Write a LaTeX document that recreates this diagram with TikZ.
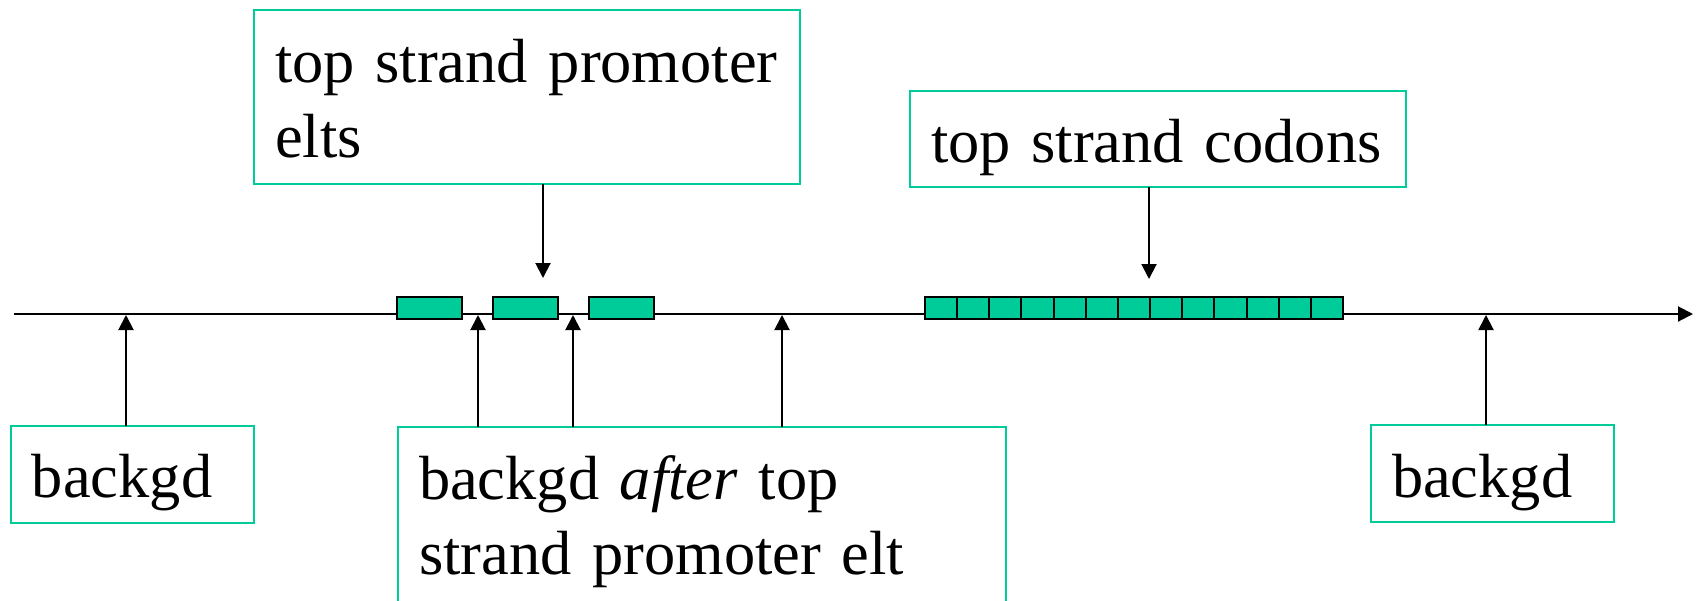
\documentclass[tikz,border=0pt]{standalone}
\usepackage{fontspec}
\setmainfont{Liberation Serif}
\usetikzlibrary{arrows.meta}
\definecolor{eltgreen}{RGB}{0,204,153}

\tikzset{
    labelbox/.style={draw=eltgreen, line width=1pt, anchor=north west, align=left, outer sep=0pt, inner xsep=10.5pt, inner ysep=0pt, font=\fontsize{31.2}{37.5}\selectfont},
    eltbox/.style={draw, fill=eltgreen, line width=1pt, anchor=north west, outer sep=0pt, inner sep=0pt, minimum height=11pt},
    pointer/.style={line width=1pt, -{Triangle[width=7.5pt,length=7.5pt]}},
}

\begin{document}
\begin{tikzpicture}[x=0.5pt, y=-0.5pt]

    \useasboundingbox (0,0) rectangle (1702,600);

    % Draw sequence axis
    \coordinate (axstart) at (14,314);
    \coordinate (axend) at (1693,314);
    \draw[pointer] (axstart)--(axend);

    % Draw promoter elements
    \node[eltbox, minimum width=32.5pt] (elt1) at (397,297) {};
    \node[eltbox, minimum width=32.5pt] (elt2) at (493,297) {};
    \node[eltbox, minimum width=32.5pt] (elt3) at (589,297) {};

    % Draw codons
    \foreach \i in {0,...,12} {
        \node[eltbox, minimum width=16.075pt] (codon\i) at ({925+32.15*\i},297) {};
    }

    % Draw label boxes
    \node[labelbox, text width=252pt, text height=36pt, text depth=51pt] (promo) at (254,10) {\mbox{top strand promoter}\\\mbox{elts}};
    \node[labelbox, text width=227pt, text height=35.5pt, text depth=12.5pt] (codons) at (910,91) {\mbox{top strand codons}};
    \node[labelbox, text width=100.5pt, text height=35.5pt, text depth=13pt] (bgleft) at (11,426) {\mbox{backgd}};
    \node[labelbox, text width=283pt, text height=36pt, text depth=100pt] (bgafter) at (398,427) {\mbox{backgd \textit{after} top}\\\mbox{strand promoter elt}};
    \node[labelbox, text width=100.5pt, text height=36pt, text depth=12.5pt] (bgright) at (1371,425) {\mbox{backgd}};

    % Arrow targets
    \coordinate (promtip) at (543,278);
    \coordinate (codtip) at (1149,279);
    \coordinate (bg1) at (126,315);
    \coordinate (aft1) at (478,315);
    \coordinate (aft2) at (573,315);
    \coordinate (aft3) at (782,315);
    \coordinate (bg2) at (1486,315);

    % Draw pointers
    \draw[pointer] (promo.south -| promtip)--(promtip);
    \draw[pointer] (codons.south -| codtip)--(codtip);
    \draw[pointer] (bgleft.north -| bg1)--(bg1);
    \draw[pointer] (bgafter.north -| aft1)--(aft1);
    \draw[pointer] (bgafter.north -| aft2)--(aft2);
    \draw[pointer] (bgafter.north -| aft3)--(aft3);
    \draw[pointer] (bgright.north -| bg2)--(bg2);

\end{tikzpicture}
\end{document}
